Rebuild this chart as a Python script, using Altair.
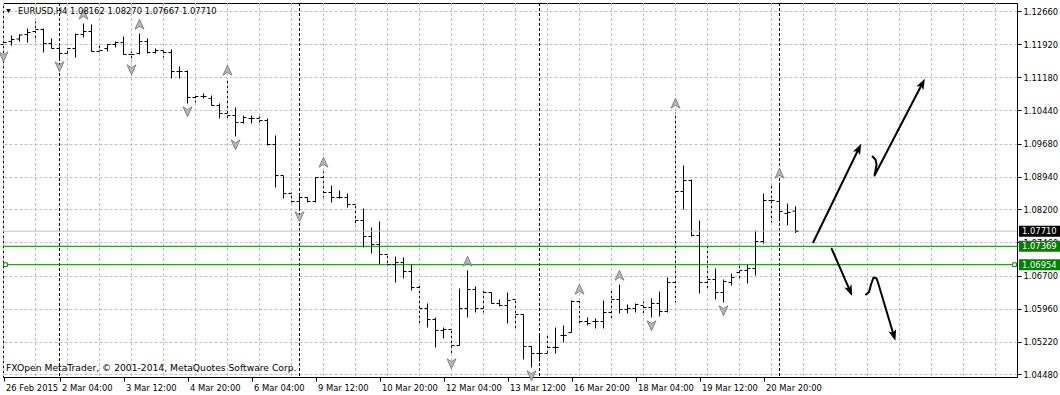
import altair as alt
import pandas as pd

# ---------------- data ----------------
bar_index = list(range(100))
opens = [1.11916, 1.11984, 1.12040, 1.12142, 1.12209, 1.12254, 1.11939, 1.11826, 1.11714, 1.11826,
         1.12142, 1.12209, 1.11759, 1.11826, 1.11916, 1.11961, 1.11691, 1.11714, 1.11984, 1.11736,
         1.11781, 1.11736, 1.11308, 1.11308, 1.10722, 1.10745, 1.10700, 1.10542, 1.10362, 1.10316,
         1.10159, 1.10249, 1.10249, 1.10204, 1.09663, 1.08964, 1.08559, 1.08379, 1.08469, 1.08379,
         1.08919, 1.08581, 1.08469, 1.08469, 1.08311, 1.07950, 1.07590, 1.07410, 1.07184, 1.06959,
         1.07004, 1.06801, 1.06441, 1.05967, 1.05720, 1.05472, 1.05494, 1.05134, 1.05967, 1.06396,
         1.05967, 1.06328, 1.06080, 1.06035, 1.06170, 1.05832, 1.05111, 1.04953, 1.04953, 1.05089,
         1.05359, 1.05427, 1.06125, 1.05674, 1.05674, 1.05674, 1.05877, 1.06170, 1.05945, 1.05967,
         1.06035, 1.05990, 1.06080, 1.05900, 1.06553, 1.08604, 1.08852, 1.07612, 1.06553, 1.06621,
         1.06328, 1.06553, 1.06779, 1.06824, 1.06869, 1.07477, 1.08401, 1.08379, 1.08108, 1.08162]
highs = [1.12029, 1.12119, 1.12142, 1.12277, 1.12435, 1.12277, 1.12052, 1.11871, 1.11826, 1.12164,
         1.12390, 1.12367, 1.11939, 1.11916, 1.11984, 1.12097, 1.11759, 1.12164, 1.12052, 1.11826,
         1.11804, 1.11804, 1.11421, 1.11331, 1.10790, 1.10812, 1.10767, 1.10587, 1.11128, 1.10497,
         1.10316, 1.10316, 1.10294, 1.10249, 1.09866, 1.08964, 1.08581, 1.08559, 1.08469, 1.08919,
         1.09055, 1.08739, 1.08626, 1.08559, 1.08333, 1.08221, 1.07793, 1.07928, 1.07207, 1.07139,
         1.07117, 1.06959, 1.06531, 1.06080, 1.05765, 1.05539, 1.05517, 1.06418, 1.06824, 1.06463,
         1.06373, 1.06328, 1.06170, 1.06328, 1.06193, 1.05832, 1.05111, 1.05359, 1.05359, 1.05539,
         1.05584, 1.06148, 1.06193, 1.05765, 1.05742, 1.06148, 1.06396, 1.06508, 1.06058, 1.06080,
         1.06125, 1.06193, 1.06351, 1.06666, 1.10384, 1.09190, 1.08874, 1.07950, 1.07365, 1.06869,
         1.06621, 1.06756, 1.06936, 1.06959, 1.07725, 1.08559, 1.08784, 1.08807, 1.08333, 1.08270]
lows = [1.11826, 1.11894, 1.11984, 1.11961, 1.11984, 1.11736, 1.11826, 1.11601, 1.11691, 1.11623,
        1.12074, 1.11759, 1.11759, 1.11759, 1.11849, 1.11691, 1.11533, 1.11691, 1.11714, 1.11714,
        1.11623, 1.11150, 1.11150, 1.10587, 1.10609, 1.10700, 1.10542, 1.10249, 1.10249, 1.09843,
        1.10136, 1.10136, 1.10159, 1.09640, 1.08694, 1.08446, 1.08356, 1.08221, 1.08356, 1.08356,
        1.08469, 1.08356, 1.08446, 1.08243, 1.07815, 1.07342, 1.07207, 1.06959, 1.06914, 1.06553,
        1.06644, 1.06373, 1.05584, 1.05539, 1.05089, 1.05291, 1.04908, 1.05134, 1.05765, 1.05877,
        1.05877, 1.06080, 1.06012, 1.05629, 1.05517, 1.04818, 1.04638, 1.04773, 1.04953, 1.04953,
        1.05201, 1.05427, 1.05629, 1.05584, 1.05517, 1.05517, 1.05697, 1.05855, 1.05855, 1.05877,
        1.05810, 1.05765, 1.05787, 1.05877, 1.06103, 1.08198, 1.07590, 1.06305, 1.06396, 1.06170,
        1.06103, 1.06486, 1.06621, 1.06531, 1.06711, 1.07432, 1.07905, 1.07928, 1.07838, 1.07667]
closes = [1.11961, 1.12029, 1.12131, 1.12187, 1.12254, 1.11939, 1.11826, 1.11714, 1.11826, 1.12142,
          1.12209, 1.11759, 1.11781, 1.11916, 1.11961, 1.11691, 1.11691, 1.11984, 1.11736, 1.11781,
          1.11736, 1.11308, 1.11308, 1.10722, 1.10745, 1.10745, 1.10542, 1.10362, 1.10316, 1.10159,
          1.10271, 1.10249, 1.10204, 1.09663, 1.08964, 1.08559, 1.08379, 1.08469, 1.08379, 1.08919,
          1.08581, 1.08469, 1.08469, 1.08311, 1.07950, 1.07590, 1.07410, 1.07184, 1.06959, 1.07004,
          1.06801, 1.06441, 1.05967, 1.05720, 1.05472, 1.05494, 1.05134, 1.05967, 1.06396, 1.05967,
          1.06328, 1.06080, 1.06035, 1.06148, 1.05832, 1.05111, 1.04953, 1.04953, 1.05089, 1.05089,
          1.05359, 1.06125, 1.05674, 1.05629, 1.05674, 1.05877, 1.06170, 1.05945, 1.05967, 1.06058,
          1.05990, 1.06080, 1.05900, 1.06553, 1.08604, 1.08852, 1.07612, 1.06553, 1.06621, 1.06328,
          1.06576, 1.06666, 1.06824, 1.06869, 1.07477, 1.08401, 1.08401, 1.08153, 1.08131, 1.07710]

price_ticks = [1.1266, 1.1192, 1.1118, 1.1044, 1.0968, 1.0894, 1.0820, 1.0746,
               1.0670, 1.0596, 1.0522, 1.0448]
time_tick_bars = [0, 7, 15, 23, 31, 39, 47, 55, 63, 71, 79, 87, 95]
time_tick_labels = ["26 Feb 2015", "2 Mar 04:00", "3 Mar 12:00", "4 Mar 20:00", "6 Mar 04:00",
                    "9 Mar 12:00", "10 Mar 20:00", "12 Mar 04:00", "13 Mar 12:00", "16 Mar 20:00",
                    "18 Mar 04:00", "19 Mar 12:00", "20 Mar 20:00"]
week_separator_bars = [7, 37, 67, 97]
fractal_up_bars = [10, 17, 28, 40, 58, 72, 77, 84, 97]
fractal_down_bars = [0, 7, 16, 23, 29, 37, 56, 66, 81, 90]
green_levels = [1.07369, 1.06954]
bid_price = 1.07710
symbol_title = "EURUSD,H4 1.08162 1.08270 1.07667 1.07710"
footer_text = "FXOpen MetaTrader, \u00a9 2001-2014, MetaQuotes Software Corp."

# hand-drawn forecast arrows (bar index, price)
arrow_ids = ["up1", "up1",
             "up2", "up2", "up2", "up2", "up2", "up2",
             "dn1", "dn1",
             "dn2", "dn2", "dn2", "dn2", "dn2", "dn2", "dn2"]
arrow_bar = [101.22, 106.9,
             108.63, 109.0, 109.13, 109.0, 108.88, 114.84,
             103.53, 105.8,
             107.81, 108.19, 108.44, 108.75, 109.13, 109.31, 111.28]
arrow_price = [1.07461, 1.09566,
               1.09393, 1.09325, 1.09212, 1.09077, 1.08965, 1.11031,
               1.07313, 1.06369,
               1.06283, 1.06339, 1.06508, 1.06666, 1.06643, 1.06553, 1.05366]
head_bar = [106.9, 114.84, 105.8, 111.28]
head_price = [1.09566, 1.11031, 1.06369, 1.05366]
head_angle = [26, 27.5, 156.5, 163.4]

# ---------------- chart ----------------
FONT = "DejaVu Sans"
FS = 8.4
GRID = "#c0c0c0"
W, H = 1014, 374

xscale = alt.Scale(domain=[-0.0625, 126.6875], nice=False, zero=False)
yscale = alt.Scale(domain=[1.0442363, 1.1285154], nice=False, zero=False)

label_expr = ("[" + ",".join("'%s'" % t for t in time_tick_labels) + "][indexof(["
              + ",".join(str(v) for v in time_tick_bars) + "], datum.value)]")

x_axis = alt.Axis(orient="bottom", values=time_tick_bars, labelExpr=label_expr, grid=False,
                  domain=False, ticks=True, tickColor="black", tickSize=4, labelAlign="left",
                  labelBaseline="top", labelPadding=2, labelOffset=2, labelFont=FONT,
                  labelFontSize=FS, labelColor="black", labelOverlap=False, labelFlush=False,
                  title="")
y_axis = alt.Axis(orient="right", values=price_ticks, format=".5f", grid=True, gridColor=GRID,
                  gridDash=[3, 2], gridWidth=1, domain=True, domainColor="black", ticks=True,
                  tickColor="black", tickSize=4, labelPadding=2, labelFont=FONT, labelFontSize=FS,
                  labelColor="black", labelBaseline="middle", labelOverlap=False, title="")


def X(field, **kw):
    return alt.X(field, scale=xscale, axis=x_axis, **kw)


def Y(field, **kw):
    return alt.Y(field, scale=yscale, axis=y_axis, **kw)


bars = pd.DataFrame({"bar": bar_index, "open": opens, "high": highs,
                     "low": lows, "close": closes})

hl = alt.Chart(bars).mark_rule(color="black", strokeWidth=1).encode(
    x=X("bar:Q"), y=Y("low:Q"), y2="high:Q")
open_tick = alt.Chart(bars).transform_calculate(x0="datum.bar - 0.375").mark_rule(
    color="black", strokeWidth=1).encode(x=X("x0:Q"), x2="bar:Q", y=Y("open:Q"))
close_tick = alt.Chart(bars).transform_calculate(x1="datum.bar + 0.375").mark_rule(
    color="black", strokeWidth=1).encode(x=X("bar:Q"), x2="x1:Q", y=Y("close:Q"))

grid_df = pd.DataFrame({"bar": list(range(0, 127, 4))})
vgrid = alt.Chart(grid_df).mark_rule(color=GRID, strokeDash=[3, 2], strokeWidth=1).encode(
    x=X("bar:Q"))

sep = alt.Chart(pd.DataFrame({"bar": week_separator_bars})).mark_rule(
    color="black", strokeDash=[3, 2], strokeWidth=1).encode(x=X("bar:Q"))

bid = alt.Chart(pd.DataFrame({"p": [bid_price]})).mark_rule(color="#c0c0c0", strokeWidth=1).encode(
    y=Y("p:Q"))
green = alt.Chart(pd.DataFrame({"p": green_levels})).mark_rule(color="#008000", strokeWidth=1).encode(
    y=Y("p:Q"))

up_path = "M0,-1L0.85,0.9L0,0.35L-0.85,0.9Z"
dn_path = "M0,1L0.85,-0.9L0,-0.35L-0.85,-0.9Z"
fu = pd.DataFrame({"bar": fractal_up_bars, "p": [highs[i] for i in fractal_up_bars]})
fd = pd.DataFrame({"bar": fractal_down_bars, "p": [lows[i] for i in fractal_down_bars]})
frac_up = alt.Chart(fu).mark_point(shape=up_path, size=110, filled=True, fill="#b8b8b8",
                                   stroke="#6e6e6e", strokeWidth=0.8, yOffset=-9, opacity=1).encode(
    x=X("bar:Q"), y=Y("p:Q"))
frac_dn = alt.Chart(fd).mark_point(shape=dn_path, size=110, filled=True, fill="#b8b8b8",
                                   stroke="#6e6e6e", strokeWidth=0.8, yOffset=8, opacity=1).encode(
    x=X("bar:Q"), y=Y("p:Q"))

arr_df = pd.DataFrame({"id": arrow_ids, "bar": arrow_bar, "p": arrow_price,
                       "seq": list(range(len(arrow_ids)))})
arr_lines = alt.Chart(arr_df).mark_line(color="black", strokeWidth=2, strokeCap="round",
                                        strokeJoin="round").encode(
    x=X("bar:Q"), y=Y("p:Q"), detail="id:N", order="seq:Q")
head_df = pd.DataFrame({"bar": head_bar, "p": head_price, "ang": head_angle})
arr_heads = alt.Chart(head_df).mark_point(shape="M0,-1L0.7,0.9L0,0.45L-0.7,0.9Z", size=130,
                                          filled=True, color="black", opacity=1).encode(
    x=X("bar:Q"), y=Y("p:Q"), angle=alt.Angle("ang:Q", scale=None))

box_df = pd.DataFrame({"p": [bid_price] + green_levels,
                       "c": ["black", "#008000", "#008000"],
                       "t": ["%.5f" % v for v in [bid_price] + green_levels]})
boxes = alt.Chart(box_df).mark_rect(yOffset=-5.5, y2Offset=5.5).encode(
    x=alt.value(W + 2), x2=alt.value(W + 43),
    y=Y("p:Q"), y2="p:Q",
    color=alt.Color("c:N", scale=None))
box_text = alt.Chart(box_df).mark_text(align="left", baseline="middle", color="white",
                                       font=FONT, fontSize=FS).encode(
    x=alt.value(W + 5), y=Y("p:Q"), text="t:N")

sel_left = alt.Chart(pd.DataFrame({"p": [green_levels[1]]})).mark_point(
    shape="square", size=14, filled=True, fill="white", stroke="#008000", strokeWidth=1,
    opacity=1).encode(x=alt.value(2.5), y=Y("p:Q"))
sel_right = alt.Chart(pd.DataFrame({"p": [green_levels[1]]})).mark_point(
    shape="square", size=14, filled=True, fill="white", stroke="#008000", strokeWidth=1,
    opacity=1).encode(x=alt.value(W - 2.5), y=Y("p:Q"))

tri = alt.Chart(pd.DataFrame({"k": [0]})).mark_point(
    shape="triangle-down", size=22, filled=True, color="black", opacity=1).encode(
    x=alt.value(5.5), y=alt.value(8))
header = alt.Chart(pd.DataFrame({"t": [symbol_title]})).mark_text(
    align="left", baseline="middle", font=FONT, fontSize=FS, color="black").encode(
    x=alt.value(15), y=alt.value(8), text="t:N")
footer = alt.Chart(pd.DataFrame({"t": [footer_text]})).mark_text(
    align="left", baseline="middle", font=FONT, fontSize=9.2, color="black").encode(
    x=alt.value(3), y=alt.value(365), text="t:N")

chart = alt.layer(
    hl, vgrid, sep, bid, green, open_tick, close_tick, frac_up, frac_dn,
    arr_lines, arr_heads, boxes, box_text, sel_left, sel_right, tri, header, footer
).properties(
    width=W, height=H,
    autosize=alt.AutoSizeParams(type="none"),
    padding={"left": 3, "top": 3, "right": 43, "bottom": 18},
    background="white",
).configure_view(stroke="black", strokeWidth=1)

chart.save("out.html", embed_options={"renderer": "svg", "actions": False})
